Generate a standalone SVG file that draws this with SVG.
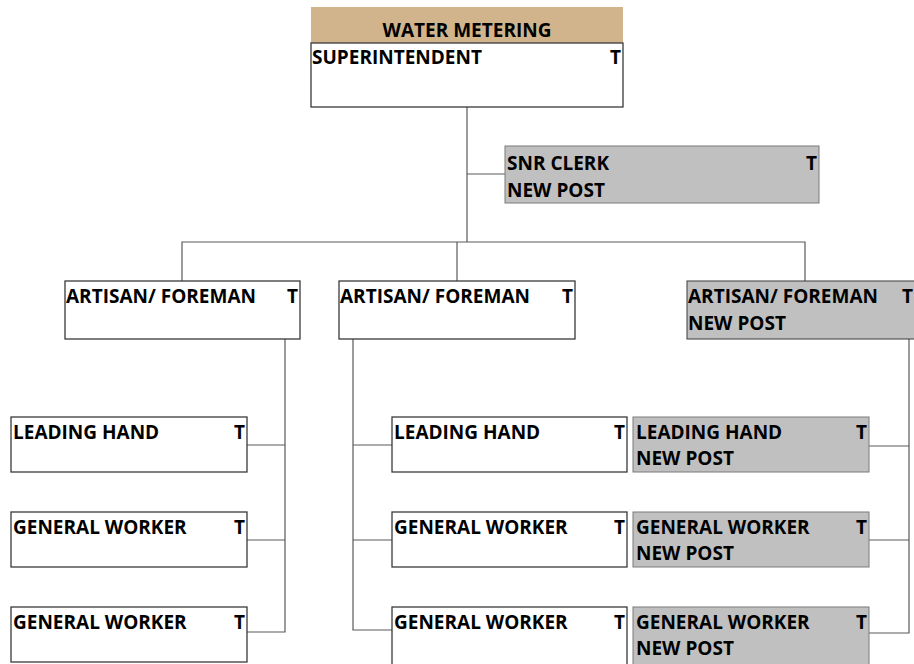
<svg xmlns="http://www.w3.org/2000/svg" width="914" height="664" viewBox="0 0 914 664">
  <style>
    .box { fill: #ffffff; stroke: #3a3a3a; stroke-width: 1.3; }
    .new { fill: #c0c0c0; stroke: #7a7a7a; stroke-width: 1; }
    .head { fill: #d2b48c; stroke: none; }
    .lbl { font-family: "Open Sans", "Liberation Sans", sans-serif; font-weight: bold; font-size: 19px; fill: #000000; }
    .end { text-anchor: end; }
    .mid { text-anchor: middle; }
    .wire { fill: none; stroke: #5a5a5a; stroke-width: 1.2; }
  </style>

  <!-- connectors -->
  <g id="connectors">
    <path class="wire" d="M467 107 V242"/>
    <path class="wire" d="M467 174 H505"/>
    <path class="wire" d="M182 281 V242 H805 V281"/>
    <path class="wire" d="M457 242 V281"/>
    <!-- left branch -->
    <path class="wire" d="M285 339 V632 H247"/>
    <path class="wire" d="M247 445 H285"/>
    <path class="wire" d="M247 540 H285"/>
    <!-- middle branch -->
    <path class="wire" d="M353 339 V630 H392"/>
    <path class="wire" d="M353 445 H392"/>
    <path class="wire" d="M353 540 H392"/>
    <!-- right branch -->
    <path class="wire" d="M909 339 V633 H869"/>
    <path class="wire" d="M869 446 H909"/>
    <path class="wire" d="M869 540 H909"/>
  </g>

  <g id="superintendent">
    <rect class="head" x="311" y="7" width="312" height="36"/>
    <rect class="box" x="311" y="43" width="312" height="64"/>
    <text class="lbl mid" x="467" y="37">WATER METERING</text>
    <text class="lbl" x="312" y="64">SUPERINTENDENT</text>
    <text class="lbl end" x="621" y="64">T</text>
  </g>

  <g id="snr-clerk">
    <rect class="new" x="505" y="146" width="314" height="57"/>
    <text class="lbl" x="507" y="170">SNR CLERK</text>
    <text class="lbl end" x="817" y="170">T</text>
    <text class="lbl" x="507" y="197">NEW POST</text>
  </g>

  <g id="artisan-1">
    <rect class="box" x="65" y="281" width="235" height="58"/>
    <text class="lbl" x="66" y="303">ARTISAN/ FOREMAN</text>
    <text class="lbl end" x="298" y="303">T</text>
  </g>

  <g id="artisan-2">
    <rect class="box" x="339" y="281" width="236" height="58"/>
    <text class="lbl" x="340" y="303">ARTISAN/ FOREMAN</text>
    <text class="lbl end" x="573" y="303">T</text>
  </g>

  <g id="artisan-3">
    <rect class="new" x="687" y="281" width="240" height="58" style="stroke:#3a3a3a"/>
    <text class="lbl" x="688" y="303">ARTISAN/ FOREMAN</text>
    <text class="lbl end" x="913" y="303">T</text>
    <text class="lbl" x="688" y="330">NEW POST</text>
  </g>

  <g id="leading-hand-1">
    <rect class="box" x="11" y="417" width="236" height="55"/>
    <text class="lbl" x="13" y="439">LEADING HAND</text>
    <text class="lbl end" x="245" y="439">T</text>
  </g>
  <g id="general-worker-1a">
    <rect class="box" x="11" y="512" width="236" height="55"/>
    <text class="lbl" x="13" y="534">GENERAL WORKER</text>
    <text class="lbl end" x="245" y="534">T</text>
  </g>
  <g id="general-worker-1b">
    <rect class="box" x="11" y="607" width="236" height="55"/>
    <text class="lbl" x="13" y="629">GENERAL WORKER</text>
    <text class="lbl end" x="245" y="629">T</text>
  </g>

  <g id="leading-hand-2">
    <rect class="box" x="392" y="417" width="235" height="55"/>
    <text class="lbl" x="394" y="439">LEADING HAND</text>
    <text class="lbl end" x="625" y="439">T</text>
  </g>
  <g id="general-worker-2a">
    <rect class="box" x="392" y="512" width="235" height="55"/>
    <text class="lbl" x="394" y="534">GENERAL WORKER</text>
    <text class="lbl end" x="625" y="534">T</text>
  </g>
  <g id="general-worker-2b">
    <rect class="box" x="392" y="607" width="235" height="60"/>
    <text class="lbl" x="394" y="629">GENERAL WORKER</text>
    <text class="lbl end" x="625" y="629">T</text>
  </g>

  <g id="leading-hand-3">
    <rect class="new" x="633" y="417" width="236" height="55"/>
    <text class="lbl" x="636" y="439">LEADING HAND</text>
    <text class="lbl end" x="867" y="439">T</text>
    <text class="lbl" x="636" y="465">NEW POST</text>
  </g>
  <g id="general-worker-3a">
    <rect class="new" x="633" y="512" width="236" height="55"/>
    <text class="lbl" x="636" y="534">GENERAL WORKER</text>
    <text class="lbl end" x="867" y="534">T</text>
    <text class="lbl" x="636" y="560">NEW POST</text>
  </g>
  <g id="general-worker-3b">
    <rect class="new" x="633" y="607" width="236" height="60"/>
    <text class="lbl" x="636" y="629">GENERAL WORKER</text>
    <text class="lbl end" x="867" y="629">T</text>
    <text class="lbl" x="636" y="655">NEW POST</text>
  </g>
</svg>
